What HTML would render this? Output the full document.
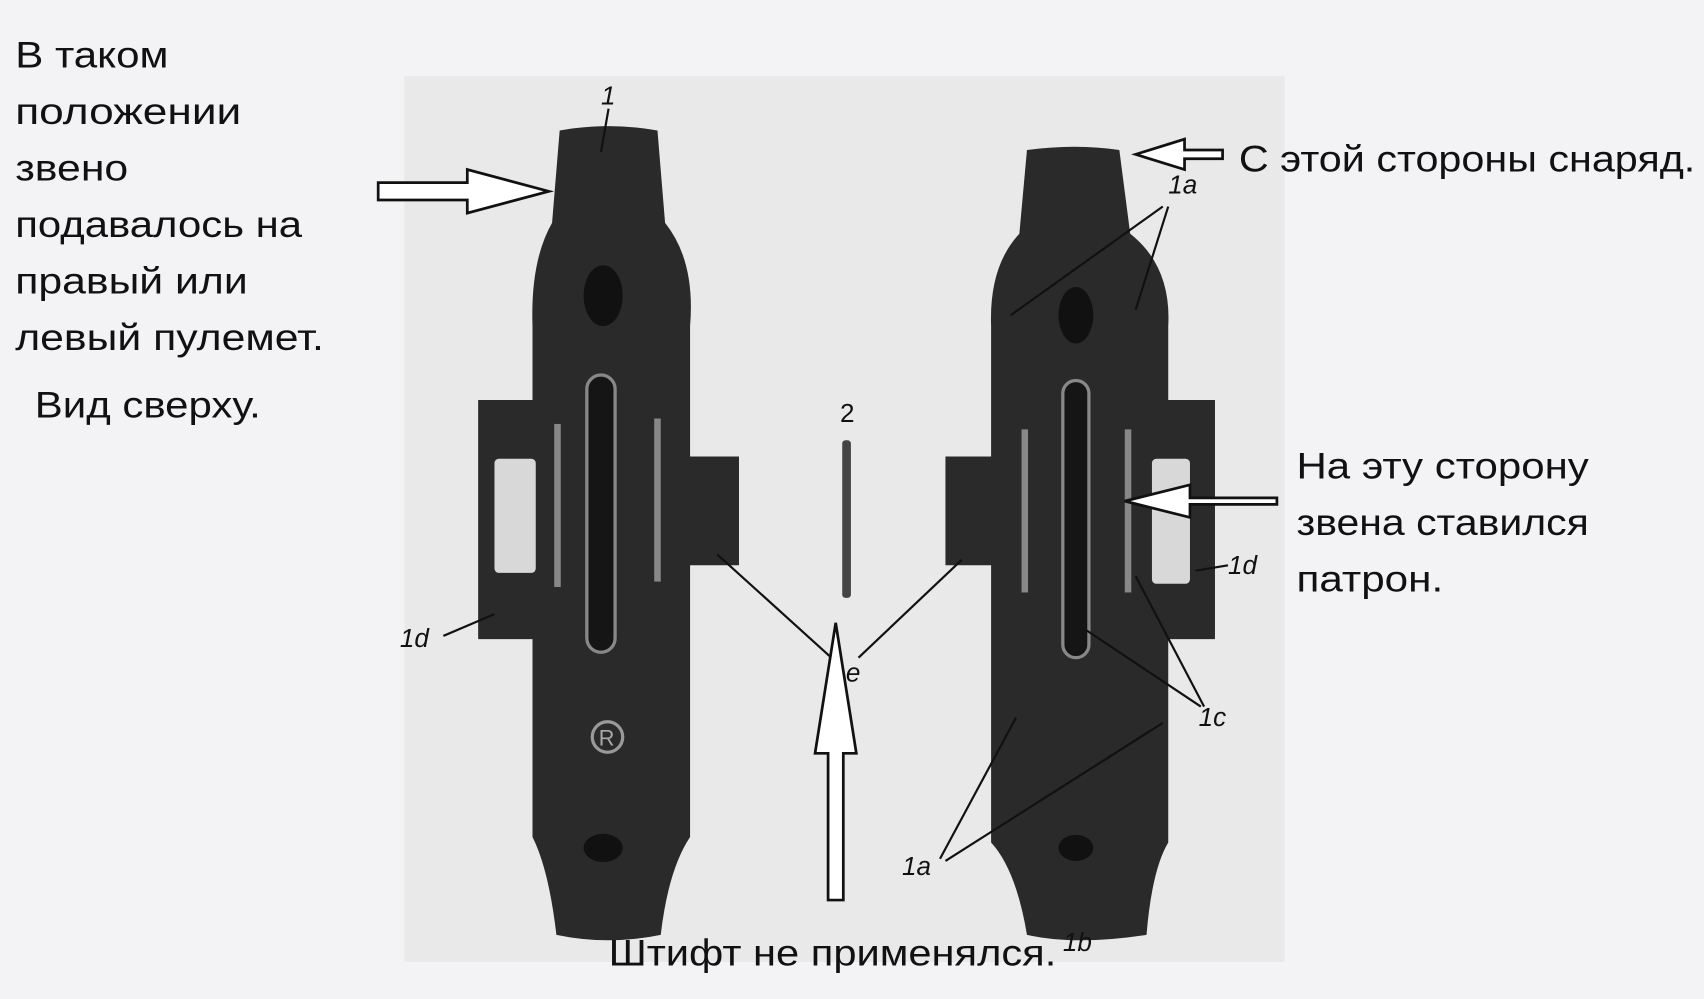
<!DOCTYPE html>
<html><head><meta charset="utf-8"><style>
html,body{margin:0;padding:0;background:#f2f2f4;}
svg{display:block}
text{font-family:"Liberation Sans","DejaVu Sans",sans-serif;fill:#111}
</style></head><body>
<svg width="1704" height="999" viewBox="0 0 1568 919" preserveAspectRatio="none">
<rect width="1568" height="919" fill="#f3f3f5"/>
<rect x="372" y="70" width="810" height="815" fill="#e9e9ea"/>
<!-- Left link -->
<g fill="#2a2a2a">
<path d="M440 368 h55 v220 h-55 z"/>
<path d="M620 420 h60 v100 h-60 z"/>
<path d="M515 120 Q560 112 605 120 L612 205 Q640 240 635 300 L635 770 Q615 800 608 860 Q560 870 512 860 Q505 800 490 770 L490 300 Q488 240 508 205 Z"/>
</g>
<rect x="455" y="422" width="38" height="105" fill="#d8d8d8" rx="4"/>
<ellipse cx="555" cy="272" rx="18" ry="28" fill="#111"/>
<rect x="540" y="345" width="26" height="255" rx="13" fill="#151515" stroke="#888" stroke-width="3"/>
<rect x="510" y="390" width="6" height="150" fill="#888"/>
<rect x="602" y="385" width="6" height="150" fill="#888"/>
<circle cx="559" cy="678" r="14" fill="none" stroke="#999" stroke-width="3"/>
<text x="551" y="686" font-size="20" style="fill:#aaa">R</text>
<ellipse cx="555" cy="780" rx="18" ry="13" fill="#111"/>
<!-- Right link -->
<g fill="#2a2a2a">
<path d="M1058 368 h60 v220 h-60 z"/>
<path d="M870 420 h52 v100 h-52 z"/>
<path d="M945 138 Q990 132 1030 138 L1040 215 Q1078 245 1075 300 L1075 775 Q1060 800 1055 860 Q990 870 945 860 Q935 800 912 775 L912 300 Q910 245 938 215 Z"/>
</g>
<rect x="1060" y="422" width="35" height="115" fill="#d8d8d8" rx="4"/>
<ellipse cx="990" cy="290" rx="16" ry="26" fill="#111"/>
<rect x="978" y="350" width="24" height="255" rx="12" fill="#151515" stroke="#888" stroke-width="3"/>
<rect x="940" y="395" width="6" height="150" fill="#888"/>
<rect x="1035" y="395" width="6" height="150" fill="#888"/>
<ellipse cx="990" cy="780" rx="16" ry="12" fill="#111"/>
<!-- pin -->
<rect x="775" y="405" width="8" height="145" fill="#444" rx="3"/>
<text x="773" y="388" font-size="24">2</text>
<!-- leader lines -->
<g stroke="#111" stroke-width="2" fill="none">
<line x1="560" y1="100" x2="553" y2="140"/>
<line x1="660" y1="510" x2="765" y2="605"/>
<line x1="885" y1="515" x2="790" y2="605"/>
<line x1="455" y1="565" x2="408" y2="585"/>
<line x1="1070" y1="190" x2="930" y2="290"/>
<line x1="1075" y1="190" x2="1045" y2="285"/>
<line x1="1130" y1="520" x2="1100" y2="525"/>
<line x1="1105" y1="650" x2="1000" y2="580"/>
<line x1="1108" y1="650" x2="1045" y2="530"/>
<line x1="865" y1="790" x2="935" y2="660"/>
<line x1="870" y1="792" x2="1070" y2="665"/>
</g>
<g font-size="24" font-style="italic">
<text x="553" y="96">1</text>
<text x="368" y="595">1d</text>
<text x="1075" y="178">1a</text>
<text x="1130" y="528">1d</text>
<text x="1103" y="668">1c</text>
<text x="830" y="805">1a</text>
<text x="978" y="875">1b</text>
<text x="765" y="627">1e</text>
</g>
<!-- arrows -->
<g fill="#fff" stroke="#111" stroke-width="2.5">
<path d="M348 168 h82 v-12 l75 20 l-75 20 v-12 h-82 z"/>
<path d="M1125 138 h-35 v-10 l-45 14 l45 14 v-10 h35 z"/>
<path d="M1175 458 h-80 v-12 l-60 15 l60 15 v-12 h80 z"/>
<path d="M762 828 v-135 h-12 l19 -120 l19 120 h-12 v135 z"/>
</g>
<!-- text -->
<g font-size="34">
<text x="14" y="62" textLength="141" lengthAdjust="spacingAndGlyphs">В таком</text>
<text x="14" y="114" textLength="208" lengthAdjust="spacingAndGlyphs">положении</text>
<text x="14" y="166" textLength="104" lengthAdjust="spacingAndGlyphs">звено</text>
<text x="14" y="218" textLength="264" lengthAdjust="spacingAndGlyphs">подавалось на</text>
<text x="14" y="270" textLength="214" lengthAdjust="spacingAndGlyphs">правый или</text>
<text x="14" y="322" textLength="284" lengthAdjust="spacingAndGlyphs">левый пулемет.</text>
<text x="32" y="384" textLength="208" lengthAdjust="spacingAndGlyphs">Вид сверху.</text>
<text x="1140" y="158" textLength="420" lengthAdjust="spacingAndGlyphs">С этой стороны снаряд.</text>
<text x="1193" y="440" textLength="269" lengthAdjust="spacingAndGlyphs">На эту сторону</text>
<text x="1193" y="492" textLength="269" lengthAdjust="spacingAndGlyphs">звена ставился</text>
<text x="1193" y="544" textLength="135" lengthAdjust="spacingAndGlyphs">патрон.</text>
<text x="560" y="888" textLength="412" lengthAdjust="spacingAndGlyphs">Штифт не применялся.</text>
</g>
</svg>
</body></html>
